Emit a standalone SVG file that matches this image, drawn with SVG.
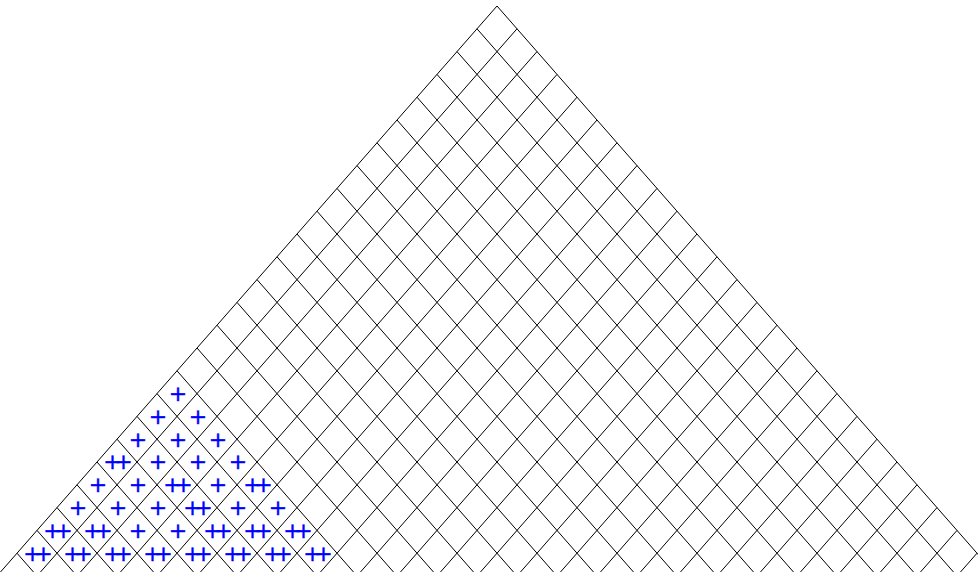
<svg xmlns="http://www.w3.org/2000/svg" width="978" height="572" viewBox="0 0 978 572">
<style>
.g{fill:none;stroke:#000;stroke-width:1}
.p{font-family:"DejaVu Sans",sans-serif;font-size:22px;fill:#0000ff;stroke:#0000ff;stroke-width:0.4;text-anchor:middle}
</style>
<rect width="978" height="572" fill="#fff"/>
<g id="grid" class="g">
<path d="M497 6L997 576M477 28.8L957 576M457 51.6L917 576M437 74.4L877 576M417 97.2L837 576M397 120L797 576M377 142.8L757 576M357 165.6L717 576M337 188.4L677 576M317 211.2L637 576M297 234L597 576M277 256.8L557 576M257 279.6L517 576M237 302.4L477 576M217 325.2L437 576M197 348L397 576M177 370.8L357 576M157 393.6L317 576M137 416.4L277 576M117 439.2L237 576M97 462L197 576M77 484.8L157 576M57 507.6L117 576M37 530.4L77 576M17 553.2L37 576"/>
<path d="M497 6L-3 576M517 28.8L37 576M537 51.6L77 576M557 74.4L117 576M577 97.2L157 576M597 120L197 576M617 142.8L237 576M637 165.6L277 576M657 188.4L317 576M677 211.2L357 576M697 234L397 576M717 256.8L437 576M737 279.6L477 576M757 302.4L517 576M777 325.2L557 576M797 348L597 576M817 370.8L637 576M837 393.6L677 576M857 416.4L717 576M877 439.2L757 576M897 462L797 576M917 484.8L837 576M937 507.6L877 576M957 530.4L917 576M977 553.2L957 576"/>
</g>
<g id="marks" class="p" transform="translate(1,0.5)">
<text x="177" y="400.5">+</text>
<text x="157" y="423.3">+</text><text x="197" y="423.3">+</text>
<text x="137" y="446.1">+</text><text x="177" y="446.1">+</text><text x="217" y="446.1">+</text>
<text x="117" y="468.9" dx="0 -7.4">++</text><text x="157" y="468.9">+</text><text x="197" y="468.9">+</text><text x="237" y="468.9">+</text>
<text x="97" y="491.7">+</text><text x="137" y="491.7">+</text><text x="177" y="491.7" dx="0 -7.4">++</text><text x="217" y="491.7">+</text><text x="257" y="491.7" dx="0 -7.4">++</text>
<text x="77" y="514.5">+</text><text x="117" y="514.5">+</text><text x="157" y="514.5">+</text><text x="197" y="514.5" dx="0 -7.4">++</text><text x="237" y="514.5">+</text><text x="277" y="514.5">+</text>
<text x="57" y="537.3" dx="0 -7.4">++</text><text x="97" y="537.3" dx="0 -7.4">++</text><text x="137" y="537.3">+</text><text x="177" y="537.3">+</text><text x="217" y="537.3" dx="0 -7.4">++</text><text x="257" y="537.3" dx="0 -7.4">++</text><text x="297" y="537.3" dx="0 -7.4">++</text>
<text x="37" y="560.1" dx="0 -7.4">++</text><text x="77" y="560.1" dx="0 -7.4">++</text><text x="117" y="560.1" dx="0 -7.4">++</text><text x="157" y="560.1" dx="0 -7.4">++</text><text x="197" y="560.1" dx="0 -7.4">++</text><text x="237" y="560.1" dx="0 -7.4">++</text><text x="277" y="560.1" dx="0 -7.4">++</text><text x="317" y="560.1" dx="0 -7.4">++</text>
</g>
</svg>
